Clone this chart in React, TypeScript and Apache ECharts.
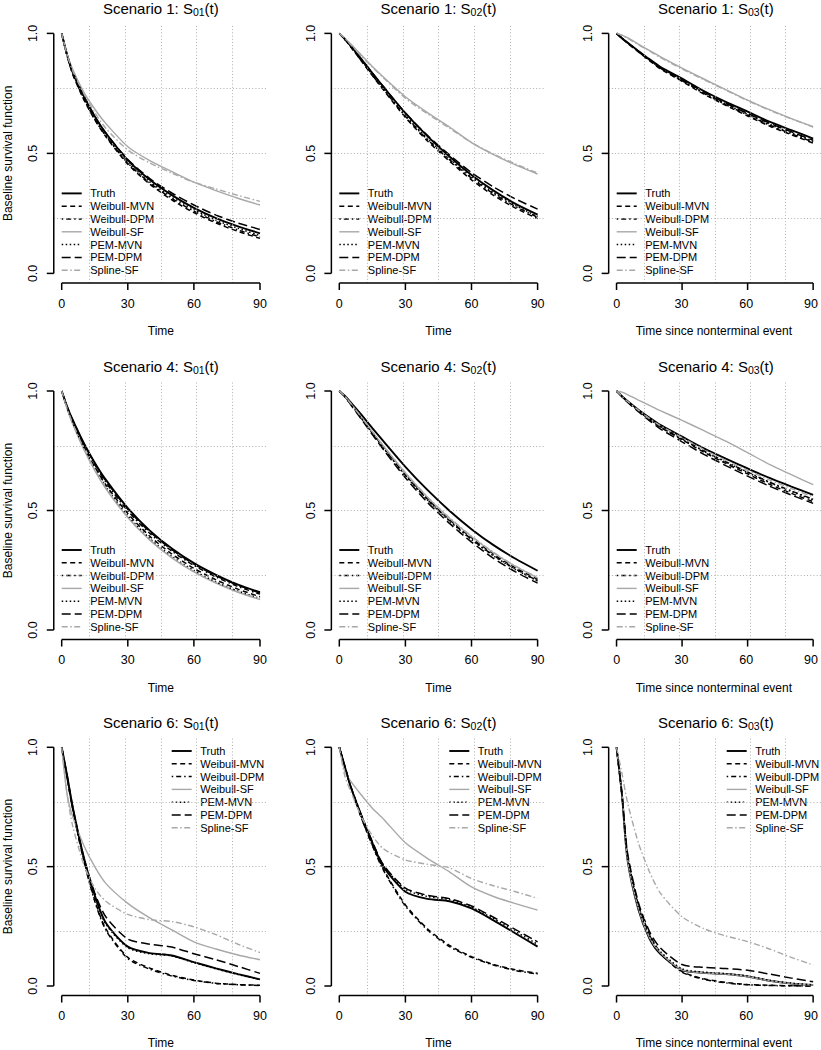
import React, { useEffect, useRef } from 'react';
import * as echarts from 'echarts';

// ---------- data ----------
const timePoints = [0, 2.5, 5, 10, 15, 20, 30, 40, 50, 60, 70, 80, 90];
const methods = ['Truth', 'Weibull-MVN', 'Weibull-DPM', 'Weibull-SF', 'PEM-MVN', 'PEM-DPM', 'Spline-SF'];
const xTickValues = [0, 30, 60, 90];
const yTickValues = [0, 0.5, 1];
const gridXValues = [12.6, 28.8, 45, 61.2, 77.4];
const gridYValues = [0.23, 0.5, 0.77];

// rows follow the order of `methods`
const scenario1_S01 = [
  [1, 0.91, 0.84, 0.74, 0.655, 0.585, 0.472, 0.39, 0.326, 0.273, 0.23, 0.196, 0.167],
  [1, 0.905, 0.83, 0.725, 0.64, 0.57, 0.455, 0.372, 0.306, 0.253, 0.21, 0.175, 0.146],
  [1, 0.906, 0.832, 0.728, 0.643, 0.573, 0.46, 0.377, 0.312, 0.259, 0.216, 0.181, 0.152],
  [1, 0.91, 0.85, 0.755, 0.685, 0.625, 0.528, 0.47, 0.424, 0.38, 0.345, 0.313, 0.285],
  [1, 0.905, 0.835, 0.73, 0.645, 0.575, 0.462, 0.382, 0.318, 0.266, 0.222, 0.188, 0.158],
  [1, 0.91, 0.84, 0.74, 0.655, 0.585, 0.475, 0.395, 0.335, 0.285, 0.243, 0.21, 0.183],
  [1, 0.91, 0.845, 0.75, 0.67, 0.605, 0.514, 0.46, 0.418, 0.38, 0.352, 0.325, 0.3],
];
const scenario1_S02 = [
  [1, 0.977, 0.95, 0.893, 0.835, 0.778, 0.668, 0.572, 0.487, 0.41, 0.345, 0.29, 0.245],
  [1, 0.975, 0.946, 0.885, 0.824, 0.765, 0.65, 0.552, 0.468, 0.39, 0.325, 0.272, 0.228],
  [1, 0.975, 0.947, 0.887, 0.826, 0.768, 0.655, 0.558, 0.474, 0.397, 0.332, 0.279, 0.234],
  [1, 0.98, 0.958, 0.91, 0.862, 0.818, 0.736, 0.67, 0.61, 0.545, 0.495, 0.452, 0.414],
  [1, 0.976, 0.948, 0.888, 0.828, 0.77, 0.658, 0.562, 0.478, 0.402, 0.337, 0.283, 0.237],
  [1, 0.977, 0.95, 0.893, 0.835, 0.778, 0.668, 0.575, 0.494, 0.42, 0.36, 0.31, 0.268],
  [1, 0.98, 0.955, 0.905, 0.86, 0.815, 0.73, 0.665, 0.605, 0.545, 0.497, 0.456, 0.418],
];
const scenario1_S03 = [
  [1, 0.98, 0.962, 0.927, 0.893, 0.861, 0.812, 0.76, 0.715, 0.674, 0.632, 0.597, 0.562],
  [1, 0.979, 0.96, 0.923, 0.887, 0.853, 0.8, 0.747, 0.7, 0.656, 0.614, 0.578, 0.543],
  [1, 0.979, 0.96, 0.924, 0.888, 0.855, 0.803, 0.75, 0.703, 0.66, 0.618, 0.582, 0.547],
  [1, 0.993, 0.982, 0.955, 0.929, 0.903, 0.855, 0.81, 0.766, 0.722, 0.682, 0.645, 0.611],
  [1, 0.98, 0.961, 0.925, 0.89, 0.857, 0.805, 0.752, 0.706, 0.663, 0.622, 0.586, 0.551],
  [1, 0.98, 0.961, 0.926, 0.891, 0.858, 0.807, 0.755, 0.709, 0.667, 0.626, 0.59, 0.555],
  [1, 0.992, 0.98, 0.953, 0.927, 0.9, 0.852, 0.807, 0.764, 0.72, 0.68, 0.644, 0.61],
];
const scenario4_S01 = [
  [1, 0.934, 0.879, 0.783, 0.7, 0.629, 0.51, 0.416, 0.341, 0.28, 0.231, 0.19, 0.158],
  [1, 0.93, 0.87, 0.77, 0.683, 0.608, 0.487, 0.392, 0.318, 0.258, 0.21, 0.171, 0.139],
  [1, 0.932, 0.875, 0.777, 0.692, 0.618, 0.498, 0.404, 0.33, 0.27, 0.222, 0.182, 0.15],
  [1, 0.925, 0.862, 0.757, 0.668, 0.592, 0.47, 0.376, 0.302, 0.243, 0.196, 0.158, 0.127],
  [1, 0.928, 0.868, 0.765, 0.677, 0.6, 0.478, 0.383, 0.308, 0.249, 0.201, 0.163, 0.132],
  [1, 0.934, 0.878, 0.781, 0.697, 0.625, 0.505, 0.411, 0.336, 0.276, 0.227, 0.187, 0.155],
  [1, 0.926, 0.864, 0.76, 0.672, 0.595, 0.473, 0.378, 0.304, 0.245, 0.198, 0.16, 0.13],
];
const scenario4_S02 = [
  [1, 0.98, 0.955, 0.901, 0.845, 0.79, 0.683, 0.586, 0.499, 0.422, 0.355, 0.298, 0.248],
  [1, 0.977, 0.948, 0.888, 0.826, 0.766, 0.652, 0.55, 0.463, 0.386, 0.318, 0.26, 0.212],
  [1, 0.977, 0.948, 0.887, 0.825, 0.764, 0.648, 0.546, 0.458, 0.38, 0.312, 0.255, 0.206],
  [1, 0.978, 0.95, 0.89, 0.829, 0.77, 0.657, 0.556, 0.468, 0.391, 0.323, 0.266, 0.218],
  [1, 0.977, 0.947, 0.886, 0.823, 0.762, 0.646, 0.544, 0.456, 0.378, 0.31, 0.253, 0.205],
  [1, 0.976, 0.945, 0.882, 0.818, 0.755, 0.637, 0.534, 0.446, 0.368, 0.3, 0.243, 0.196],
  [1, 0.978, 0.95, 0.891, 0.83, 0.771, 0.658, 0.557, 0.47, 0.393, 0.325, 0.267, 0.22],
];
const scenario4_S03 = [
  [1, 0.978, 0.958, 0.922, 0.889, 0.858, 0.809, 0.76, 0.717, 0.676, 0.636, 0.6, 0.565],
  [1, 0.977, 0.955, 0.917, 0.881, 0.849, 0.796, 0.744, 0.697, 0.653, 0.61, 0.572, 0.537],
  [1, 0.977, 0.956, 0.919, 0.884, 0.852, 0.8, 0.75, 0.704, 0.661, 0.619, 0.582, 0.547],
  [1, 0.995, 0.985, 0.962, 0.94, 0.918, 0.877, 0.834, 0.79, 0.742, 0.693, 0.65, 0.608],
  [1, 0.977, 0.956, 0.918, 0.883, 0.851, 0.799, 0.748, 0.702, 0.659, 0.617, 0.58, 0.545],
  [1, 0.976, 0.953, 0.913, 0.876, 0.842, 0.787, 0.735, 0.688, 0.644, 0.602, 0.565, 0.53],
  [1, 0.978, 0.957, 0.92, 0.886, 0.855, 0.805, 0.755, 0.71, 0.668, 0.628, 0.592, 0.557],
];
const scenario6_S01 = [
  [1, 0.88, 0.75, 0.54, 0.38, 0.265, 0.165, 0.138, 0.128, 0.1, 0.074, 0.05, 0.028],
  [1, 0.87, 0.74, 0.53, 0.36, 0.24, 0.12, 0.075, 0.045, 0.025, 0.012, 0.006, 0.003],
  [1, 0.87, 0.74, 0.525, 0.355, 0.235, 0.115, 0.07, 0.042, 0.023, 0.011, 0.005, 0.002],
  [1, 0.8, 0.71, 0.59, 0.5, 0.43, 0.346, 0.285, 0.235, 0.185, 0.155, 0.13, 0.11],
  [1, 0.875, 0.745, 0.535, 0.375, 0.26, 0.16, 0.135, 0.126, 0.098, 0.072, 0.048, 0.027],
  [1, 0.88, 0.75, 0.54, 0.39, 0.29, 0.197, 0.175, 0.163, 0.135, 0.11, 0.082, 0.053],
  [1, 0.8, 0.67, 0.51, 0.41, 0.355, 0.3, 0.278, 0.27, 0.248, 0.215, 0.175, 0.14],
];
const scenario6_S02 = [
  [1, 0.92, 0.84, 0.715, 0.6, 0.5, 0.395, 0.365, 0.355, 0.325, 0.275, 0.22, 0.165],
  [1, 0.92, 0.84, 0.705, 0.59, 0.49, 0.34, 0.24, 0.17, 0.123, 0.09, 0.068, 0.053],
  [1, 0.92, 0.84, 0.705, 0.588, 0.485, 0.335, 0.235, 0.165, 0.12, 0.088, 0.065, 0.05],
  [1, 0.9, 0.86, 0.8, 0.745, 0.7, 0.6, 0.535, 0.478, 0.415, 0.375, 0.345, 0.318],
  [1, 0.92, 0.84, 0.715, 0.603, 0.505, 0.405, 0.375, 0.362, 0.33, 0.282, 0.228, 0.175],
  [1, 0.92, 0.84, 0.715, 0.605, 0.508, 0.41, 0.38, 0.366, 0.335, 0.288, 0.236, 0.185],
  [1, 0.88, 0.82, 0.71, 0.63, 0.575, 0.528, 0.51, 0.495, 0.45, 0.42, 0.395, 0.367],
];
const scenario6_S03 = [
  [1, 0.8, 0.53, 0.32, 0.2, 0.135, 0.067, 0.055, 0.05, 0.04, 0.022, 0.01, 0.004],
  [1, 0.8, 0.55, 0.34, 0.22, 0.14, 0.06, 0.03, 0.015, 0.006, 0.003, 0.001, 0],
  [1, 0.8, 0.55, 0.335, 0.215, 0.138, 0.058, 0.028, 0.013, 0.005, 0.002, 0.001, 0],
  [1, 0.8, 0.535, 0.325, 0.205, 0.14, 0.068, 0.055, 0.05, 0.04, 0.022, 0.01, 0.004],
  [1, 0.8, 0.54, 0.33, 0.21, 0.145, 0.072, 0.058, 0.052, 0.042, 0.024, 0.012, 0.005],
  [1, 0.8, 0.56, 0.35, 0.23, 0.16, 0.09, 0.078, 0.073, 0.066, 0.05, 0.033, 0.018],
  [1, 0.89, 0.77, 0.6, 0.48, 0.39, 0.29, 0.24, 0.21, 0.186, 0.155, 0.12, 0.088],
];

const scenarioLabels = ['1', '4', '6'];
const hazardLabels = ['01', '02', '03'];
const xAxisNames = ['Time', 'Time', 'Time since nonterminal event'];
const yAxisName = 'Baseline survival function';
const panelData = [
  [scenario1_S01, scenario1_S02, scenario1_S03],
  [scenario4_S01, scenario4_S02, scenario4_S03],
  [scenario6_S01, scenario6_S02, scenario6_S03],
];

// ---------- styling / layout ----------
const FONT = "'Liberation Sans', Arial, Helvetica, sans-serif";
const GREY = '#a8a8a8';
const methodStyles: any[] = [
  { color: '#000', width: 1.9, dash: null },
  { color: '#000', width: 1.5, dash: [5, 3.5] },
  { color: '#000', width: 1.5, dash: [1.5, 3, 5, 3] },
  { color: GREY, width: 1.4, dash: null },
  { color: '#000', width: 1.5, dash: [1.5, 2.5] },
  { color: '#000', width: 1.5, dash: [9, 4] },
  { color: GREY, width: 1.4, dash: [6, 2.5, 1.5, 2.5] },
];

const COL_X0 = [61.7, 339.3, 616.7];
const ROW_Y1 = [33.4, 391, 747.3];
const ROW_H = [240, 239, 238.7];
const PW = 198.3;
const LEGEND_STEP = 12.8;
const X_EXT = [-3.6, 93.6]; // R's 4% extended plot region
const Y_EXT = [-0.04, 1.04];
const TICK_LEN = 7;
const AXIS_W = 1.5;
const MARGIN = 11; // extra room (px) inside the grid for the outward axes and ticks

// R-style detached axes drawn through the grid's own scales
function axisRenderItem(params: any, api: any) {
  const style = { stroke: '#000', lineWidth: AXIS_W, fill: null };
  const children: any[] = [];
  const yb = api.coord([0, Y_EXT[0]])[1];
  const xl = api.coord([X_EXT[0], 0])[0];
  const xs = xTickValues.map((v) => api.coord([v, 0])[0]);
  const ys = yTickValues.map((v) => api.coord([0, v])[1]);
  children.push({ type: 'line', shape: { x1: xs[0], y1: yb, x2: xs[xs.length - 1], y2: yb }, style });
  xs.forEach((x: number) => children.push({ type: 'line', shape: { x1: x, y1: yb, x2: x, y2: yb + TICK_LEN }, style }));
  children.push({ type: 'line', shape: { x1: xl, y1: ys[0], x2: xl, y2: ys[ys.length - 1] }, style });
  ys.forEach((y: number) => children.push({ type: 'line', shape: { x1: xl, y1: y, x2: xl - TICK_LEN, y2: y }, style }));
  return { type: 'group', children };
}

function buildOption() {
  const regionGrids: any[] = [];
  const xGrids: any[] = [];
  const yGrids: any[] = [];
  const regionX: any[] = [];
  const regionY: any[] = [];
  const xgX: any[] = [];
  const xgY: any[] = [];
  const ygX: any[] = [];
  const ygY: any[] = [];
  const series: any[] = [];
  const graphic: any[] = [];

  for (let r = 0; r < 3; r++) {
    for (let c = 0; c < 3; c++) {
      const p = r * 3 + c;
      const x0 = COL_X0[c];
      const y1 = ROW_Y1[r];
      const H = ROW_H[r];
      const xPad = ((0 - X_EXT[0]) * PW) / 90;
      const yPad = (0 - Y_EXT[0]) * H;

      // data grid: R plot region plus a margin on the left and bottom for the axes
      regionGrids.push({
        left: x0 - xPad - MARGIN, top: y1 - yPad,
        width: PW + 2 * xPad + MARGIN, height: H + 2 * yPad + MARGIN,
      });
      regionX.push({ gridIndex: p, type: 'value', min: X_EXT[0] - (MARGIN * 90) / PW, max: X_EXT[1], show: false });
      regionY.push({ gridIndex: p, type: 'value', min: Y_EXT[0] - MARGIN / H, max: Y_EXT[1], show: false });

      // tick labels + name of the x axis
      xGrids.push({ left: x0, top: y1 - yPad, width: PW, height: H + 2 * yPad });
      xgX.push({
        gridIndex: 9 + p, type: 'value', position: 'bottom',
        min: xTickValues[0], max: xTickValues[xTickValues.length - 1], interval: 30,
        axisLine: { show: false },
        axisTick: { show: false },
        axisLabel: { show: true, margin: 14, fontSize: 12.5, color: '#000', fontFamily: FONT },
        splitLine: { show: false },
        name: xAxisNames[c], nameLocation: 'middle', nameGap: 42,
        nameTextStyle: { fontSize: 12, color: '#000', fontFamily: FONT },
      });
      xgY.push({ gridIndex: 9 + p, type: 'value', min: 0, max: 1, show: false });

      // tick labels + name of the y axis
      yGrids.push({ left: x0 - xPad, top: y1, width: PW + 2 * xPad, height: H });
      ygX.push({ gridIndex: 18 + p, type: 'value', min: 0, max: 90, show: false });
      ygY.push({
        gridIndex: 18 + p, type: 'value', position: 'left',
        min: yTickValues[0], max: yTickValues[yTickValues.length - 1], interval: 0.5,
        axisLine: { show: false },
        axisTick: { show: false },
        axisLabel: {
          show: true, margin: 14, rotate: 90, fontSize: 12.5, color: '#000', fontFamily: FONT,
          formatter: (v: number) => v.toFixed(1),
        },
        splitLine: { show: false },
        name: c === 0 ? yAxisName : '', nameLocation: 'middle', nameGap: 40, nameRotate: 90,
        nameTextStyle: { fontSize: 12, color: '#000', fontFamily: FONT },
      });

      // dotted reference grid, limited to the plot region
      series.push({
        type: 'line', xAxisIndex: p, yAxisIndex: p, silent: true,
        data: [[X_EXT[0], Y_EXT[0]]], symbol: 'none', lineStyle: { opacity: 0 },
        markLine: {
          silent: true, symbol: ['none', 'none'], label: { show: false },
          lineStyle: { color: '#b0b0b0', type: [1, 2.2], width: 1 },
          data: [
            ...gridXValues.map((v) => [{ coord: [v, Y_EXT[0]] }, { coord: [v, Y_EXT[1]] }]),
            ...gridYValues.map((v) => [{ coord: [X_EXT[0], v] }, { coord: [X_EXT[1], v] }]),
          ],
        },
      });

      // axis lines and ticks
      series.push({
        type: 'custom', coordinateSystem: 'cartesian2d', xAxisIndex: p, yAxisIndex: p,
        data: [[0, 0]], renderItem: axisRenderItem, clip: false, silent: true, z: 20,
      });

      const rows = panelData[r][c];
      methods.forEach((m, k) => {
        const st = methodStyles[k];
        series.push({
          type: 'line', name: m, xAxisIndex: p, yAxisIndex: p,
          data: timePoints.map((t, i) => [t, rows[k][i]]),
          showSymbol: false, symbol: 'none', smooth: 0.25,
          lineStyle: { color: st.color, width: st.width, type: st.dash || 'solid' },
          itemStyle: { color: st.color },
          z: 3 + k * 0.01,
        });
      });

      // legend like R's legend(): short line sample + label
      const bottomLeft = r < 2;
      const lx = bottomLeft ? x0 : x0 + 110;
      const ly = bottomLeft ? y1 + H - 80 : y1 + 3.7;
      methods.forEach((m, k) => {
        const st = methodStyles[k];
        const yy = ly + k * LEGEND_STEP;
        graphic.push({
          type: 'line', silent: true,
          shape: { x1: lx, y1: yy, x2: lx + 20, y2: yy },
          style: { stroke: st.color, lineWidth: st.width, lineDash: st.dash || undefined },
        });
        graphic.push({
          type: 'text', silent: true, x: lx + 28.5, y: yy,
          style: { text: m, fontSize: 11, fontFamily: FONT, fill: '#000', align: 'left', verticalAlign: 'middle' },
        });
      });

      // title with subscript
      graphic.push({
        type: 'text', silent: true, x: x0 + PW / 2, y: y1 - 25,
        style: {
          text: `{a|Scenario ${scenarioLabels[r]}: S}{s|${hazardLabels[c]}}{a|(t)}`,
          align: 'center', verticalAlign: 'middle',
          rich: {
            a: { fontSize: 15, fontFamily: FONT, fill: '#000', lineHeight: 18 },
            s: { fontSize: 10.5, fontFamily: FONT, fill: '#000', lineHeight: 8, verticalAlign: 'bottom' },
          },
        },
      });
    }
  }

  return {
    animation: false,
    backgroundColor: '#ffffff',
    textStyle: { fontFamily: FONT },
    grid: [...regionGrids, ...xGrids, ...yGrids],
    xAxis: [...regionX, ...xgX, ...ygX],
    yAxis: [...regionY, ...xgY, ...ygY],
    series,
    graphic,
  };
}

export default function App() {
  const ref = useRef<HTMLDivElement>(null);
  useEffect(() => {
    if (!ref.current) return;
    const chart = echarts.init(ref.current, undefined, { renderer: 'svg' });
    chart.setOption(buildOption() as any);
    return () => chart.dispose();
  }, []);
  return (
    <div
      ref={ref}
      style={{ position: 'absolute', left: 0, top: 0, width: 821, height: 1050, background: '#fff' }}
    />
  );
}
